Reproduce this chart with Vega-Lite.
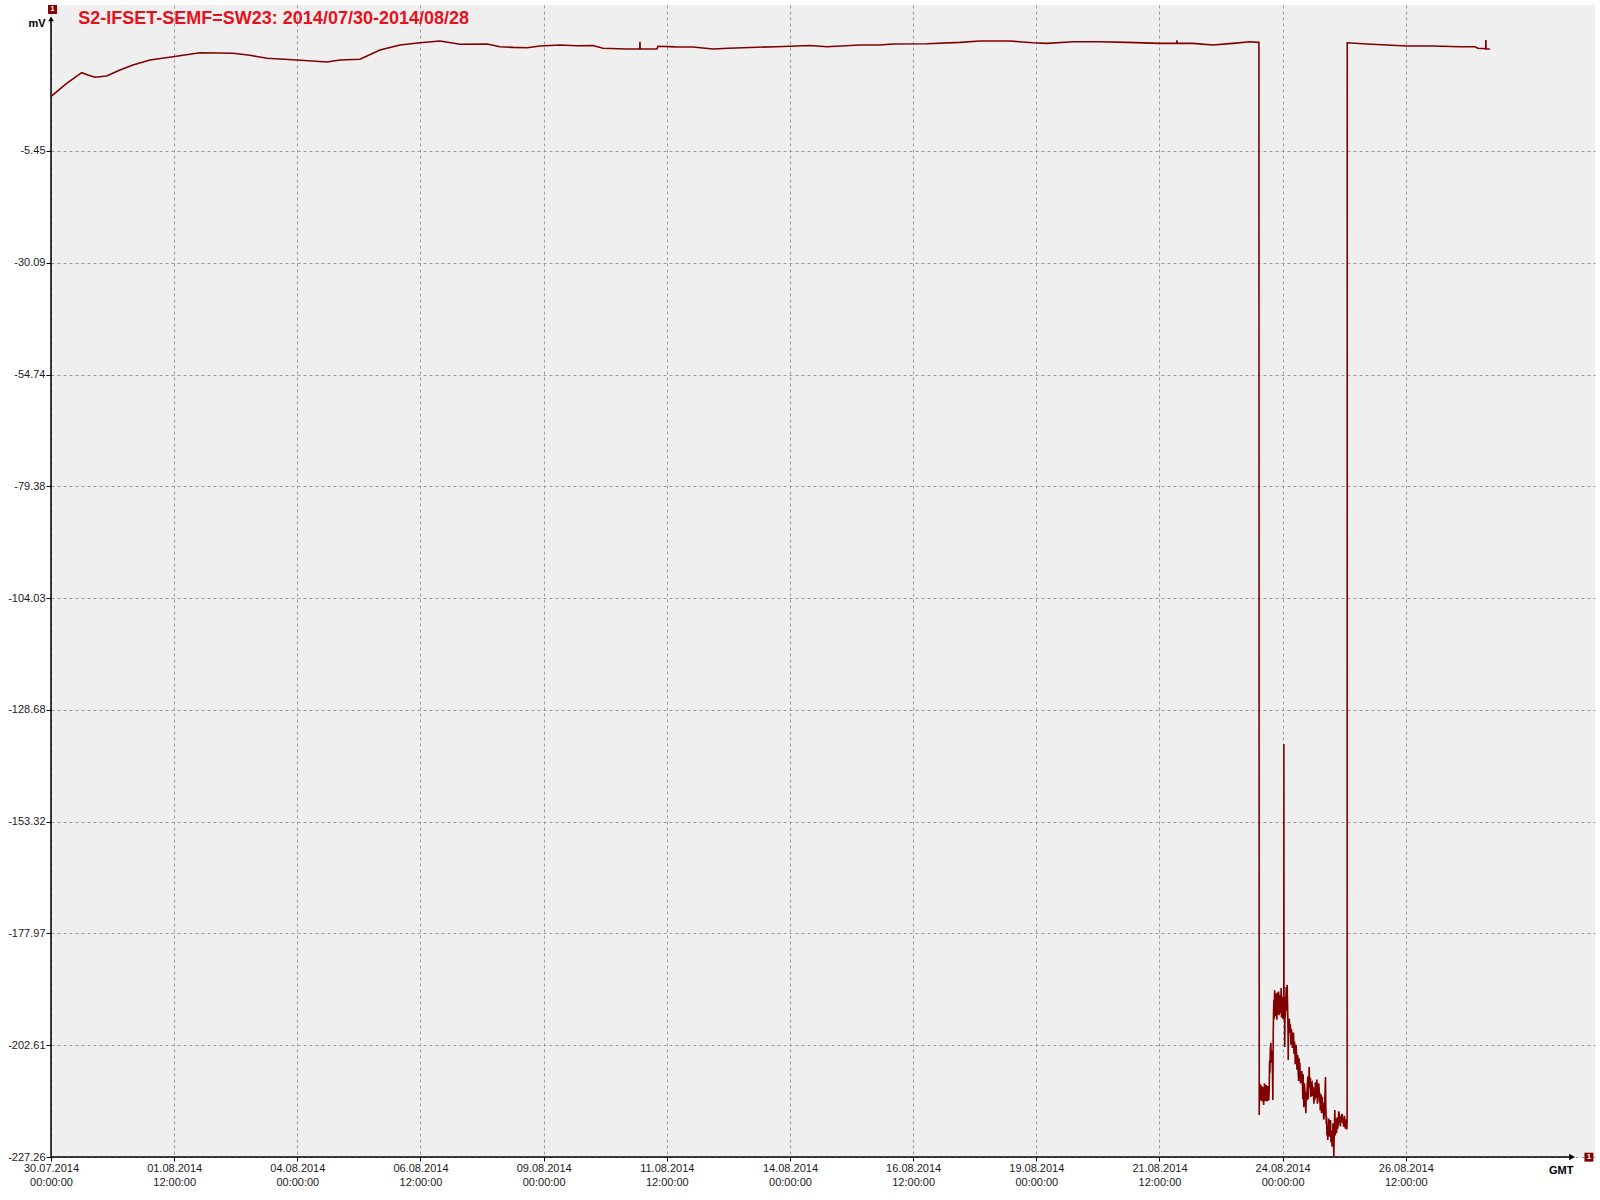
{
  "$schema": "https://vega.github.io/schema/vega-lite/v6.json",
  "width": 1544,
  "height": 1152,
  "autosize": {"type": "none"},
  "padding": {"left": 51, "top": 5, "right": 5, "bottom": 43},
  "background": "#FFFFFF",
  "config": {
    "view": {"fill": "#EFEFEF", "stroke": null},
    "font": "Liberation Sans"
  },
  "layer": [
    {
      "data": {
        "values": [
          {"t": "2014-07-30T00:20:00Z", "v": 6.68},
          {"t": "2014-07-30T07:38:00Z", "v": 9.48},
          {"t": "2014-07-30T14:57:00Z", "v": 11.81},
          {"t": "2014-07-30T18:01:00Z", "v": 11.3},
          {"t": "2014-07-30T21:25:00Z", "v": 10.8},
          {"t": "2014-07-31T03:07:00Z", "v": 11.09},
          {"t": "2014-07-31T09:36:00Z", "v": 12.41},
          {"t": "2014-07-31T15:56:00Z", "v": 13.51},
          {"t": "2014-08-01T00:13:00Z", "v": 14.61},
          {"t": "2014-08-01T11:26:00Z", "v": 15.34},
          {"t": "2014-08-02T00:35:00Z", "v": 16.22},
          {"t": "2014-08-02T16:39:00Z", "v": 16.09},
          {"t": "2014-08-03T00:56:00Z", "v": 15.65},
          {"t": "2014-08-03T09:13:00Z", "v": 14.99},
          {"t": "2014-08-03T23:50:00Z", "v": 14.61},
          {"t": "2014-08-04T14:27:00Z", "v": 14.17},
          {"t": "2014-08-04T20:47:00Z", "v": 14.61},
          {"t": "2014-08-05T06:31:00Z", "v": 14.77},
          {"t": "2014-08-05T16:15:00Z", "v": 16.82},
          {"t": "2014-08-06T02:00:00Z", "v": 17.92},
          {"t": "2014-08-06T11:44:00Z", "v": 18.43},
          {"t": "2014-08-06T21:29:00Z", "v": 18.8},
          {"t": "2014-08-07T07:13:00Z", "v": 18.1},
          {"t": "2014-08-07T20:23:00Z", "v": 18.14},
          {"t": "2014-08-08T02:43:00Z", "v": 17.55},
          {"t": "2014-08-08T09:10:00Z", "v": 17.4},
          {"t": "2014-08-08T15:52:00Z", "v": 17.33},
          {"t": "2014-08-08T22:12:00Z", "v": 17.7},
          {"t": "2014-08-09T07:57:00Z", "v": 17.92},
          {"t": "2014-08-09T16:00:00Z", "v": 17.75},
          {"t": "2014-08-10T00:01:00Z", "v": 17.8},
          {"t": "2014-08-10T04:54:00Z", "v": 17.19},
          {"t": "2014-08-10T16:35:00Z", "v": 17.04},
          {"t": "2014-08-10T22:50:00Z", "v": 17.04},
          {"t": "2014-08-10T22:55:00Z", "v": 18.65},
          {"t": "2014-08-10T23:00:00Z", "v": 17.04},
          {"t": "2014-08-11T07:12:00Z", "v": 17.04},
          {"t": "2014-08-11T07:41:00Z", "v": 17.63},
          {"t": "2014-08-11T16:00:00Z", "v": 17.5},
          {"t": "2014-08-12T00:43:00Z", "v": 17.48},
          {"t": "2014-08-12T10:28:00Z", "v": 17.04},
          {"t": "2014-08-12T18:00:00Z", "v": 17.2},
          {"t": "2014-08-13T01:05:00Z", "v": 17.33},
          {"t": "2014-08-13T17:38:00Z", "v": 17.55},
          {"t": "2014-08-14T09:43:00Z", "v": 17.8},
          {"t": "2014-08-14T18:00:00Z", "v": 17.55},
          {"t": "2014-08-15T10:05:00Z", "v": 17.92},
          {"t": "2014-08-15T19:49:00Z", "v": 17.92},
          {"t": "2014-08-16T02:10:00Z", "v": 18.14},
          {"t": "2014-08-16T18:43:00Z", "v": 18.21},
          {"t": "2014-08-17T10:47:00Z", "v": 18.5},
          {"t": "2014-08-17T20:31:00Z", "v": 18.8},
          {"t": "2014-08-18T11:08:00Z", "v": 18.8},
          {"t": "2014-08-18T22:21:00Z", "v": 18.43},
          {"t": "2014-08-19T05:10:00Z", "v": 18.28},
          {"t": "2014-08-19T17:50:00Z", "v": 18.65},
          {"t": "2014-08-20T06:59:00Z", "v": 18.65},
          {"t": "2014-08-20T20:08:00Z", "v": 18.5},
          {"t": "2014-08-21T12:13:00Z", "v": 18.28},
          {"t": "2014-08-21T20:25:00Z", "v": 18.28},
          {"t": "2014-08-21T20:30:00Z", "v": 18.95},
          {"t": "2014-08-21T20:35:00Z", "v": 18.28},
          {"t": "2014-08-22T04:16:00Z", "v": 18.28},
          {"t": "2014-08-22T14:01:00Z", "v": 17.92},
          {"t": "2014-08-22T23:46:00Z", "v": 18.28},
          {"t": "2014-08-23T08:02:00Z", "v": 18.65},
          {"t": "2014-08-23T11:57:00Z", "v": 18.5},
          {"t": "2014-08-23T12:26:00Z", "v": 18.5},
          {"t": "2014-08-23T12:35:00Z", "v": -218.0},
          {"t": "2014-08-23T12:45:00Z", "v": -211.0},
          {"t": "2014-08-23T12:55:00Z", "v": -213.5},
          {"t": "2014-08-23T13:05:00Z", "v": -211.2},
          {"t": "2014-08-23T13:15:00Z", "v": -214.8},
          {"t": "2014-08-23T13:25:00Z", "v": -212.0},
          {"t": "2014-08-23T13:43:00Z", "v": -211.5},
          {"t": "2014-08-23T13:55:00Z", "v": -214.6},
          {"t": "2014-08-23T14:05:00Z", "v": -215.0},
          {"t": "2014-08-23T14:15:00Z", "v": -211.9},
          {"t": "2014-08-23T14:32:00Z", "v": -212.3},
          {"t": "2014-08-23T14:45:00Z", "v": -215.8},
          {"t": "2014-08-23T14:55:00Z", "v": -214.2},
          {"t": "2014-08-23T15:08:00Z", "v": -211.0},
          {"t": "2014-08-23T15:20:00Z", "v": -211.8},
          {"t": "2014-08-23T15:33:00Z", "v": -214.9},
          {"t": "2014-08-23T15:45:00Z", "v": -213.9},
          {"t": "2014-08-23T15:58:00Z", "v": -211.4},
          {"t": "2014-08-23T16:10:00Z", "v": -212.0},
          {"t": "2014-08-23T16:22:00Z", "v": -215.0},
          {"t": "2014-08-23T16:35:00Z", "v": -214.5},
          {"t": "2014-08-23T16:47:00Z", "v": -211.6},
          {"t": "2014-08-23T16:58:00Z", "v": -212.2},
          {"t": "2014-08-23T17:12:00Z", "v": -214.8},
          {"t": "2014-08-23T17:27:00Z", "v": -212.5},
          {"t": "2014-08-23T17:38:00Z", "v": -206.0},
          {"t": "2014-08-23T17:47:00Z", "v": -208.7},
          {"t": "2014-08-23T18:00:00Z", "v": -203.5},
          {"t": "2014-08-23T18:16:00Z", "v": -202.1},
          {"t": "2014-08-23T18:30:00Z", "v": -206.5},
          {"t": "2014-08-23T18:42:00Z", "v": -203.8},
          {"t": "2014-08-23T18:55:00Z", "v": -205.2},
          {"t": "2014-08-23T19:05:00Z", "v": -210.0},
          {"t": "2014-08-23T19:14:00Z", "v": -214.7},
          {"t": "2014-08-23T19:25:00Z", "v": -200.0},
          {"t": "2014-08-23T19:35:00Z", "v": -195.0},
          {"t": "2014-08-23T19:44:00Z", "v": -192.6},
          {"t": "2014-08-23T19:55:00Z", "v": -196.8},
          {"t": "2014-08-23T20:05:00Z", "v": -190.5},
          {"t": "2014-08-23T20:13:00Z", "v": -191.5},
          {"t": "2014-08-23T20:25:00Z", "v": -196.2},
          {"t": "2014-08-23T20:35:00Z", "v": -195.5},
          {"t": "2014-08-23T20:48:00Z", "v": -191.2},
          {"t": "2014-08-23T21:02:00Z", "v": -194.8},
          {"t": "2014-08-23T21:12:00Z", "v": -197.0},
          {"t": "2014-08-23T21:25:00Z", "v": -191.0},
          {"t": "2014-08-23T21:38:00Z", "v": -195.8},
          {"t": "2014-08-23T21:50:00Z", "v": -192.6},
          {"t": "2014-08-23T22:02:00Z", "v": -190.8},
          {"t": "2014-08-23T22:15:00Z", "v": -196.0},
          {"t": "2014-08-23T22:27:00Z", "v": -192.5},
          {"t": "2014-08-23T22:39:00Z", "v": -195.5},
          {"t": "2014-08-23T22:52:00Z", "v": -191.5},
          {"t": "2014-08-23T23:08:00Z", "v": -193.3},
          {"t": "2014-08-23T23:16:00Z", "v": -190.0},
          {"t": "2014-08-23T23:25:00Z", "v": -196.5},
          {"t": "2014-08-23T23:37:00Z", "v": -193.0},
          {"t": "2014-08-23T23:47:00Z", "v": -192.0},
          {"t": "2014-08-24T00:05:00Z", "v": -196.8},
          {"t": "2014-08-24T00:16:00Z", "v": -195.9},
          {"t": "2014-08-24T00:25:00Z", "v": -191.5},
          {"t": "2014-08-24T00:33:00Z", "v": -193.0},
          {"t": "2014-08-24T00:36:00Z", "v": -136.2},
          {"t": "2014-08-24T00:40:00Z", "v": -196.5},
          {"t": "2014-08-24T00:46:00Z", "v": -197.0},
          {"t": "2014-08-24T00:55:00Z", "v": -192.0},
          {"t": "2014-08-24T01:02:00Z", "v": -203.0},
          {"t": "2014-08-24T01:10:00Z", "v": -193.5},
          {"t": "2014-08-24T01:20:00Z", "v": -196.5},
          {"t": "2014-08-24T01:34:00Z", "v": -192.6},
          {"t": "2014-08-24T01:45:00Z", "v": -189.8},
          {"t": "2014-08-24T01:55:00Z", "v": -195.0},
          {"t": "2014-08-24T02:05:00Z", "v": -191.5},
          {"t": "2014-08-24T02:13:00Z", "v": -189.3},
          {"t": "2014-08-24T02:22:00Z", "v": -193.0},
          {"t": "2014-08-24T02:30:00Z", "v": -196.0},
          {"t": "2014-08-24T02:37:00Z", "v": -199.5},
          {"t": "2014-08-24T02:43:00Z", "v": -205.9},
          {"t": "2014-08-24T02:52:00Z", "v": -197.5},
          {"t": "2014-08-24T03:05:00Z", "v": -198.5},
          {"t": "2014-08-24T03:15:00Z", "v": -196.8},
          {"t": "2014-08-24T03:31:00Z", "v": -199.9},
          {"t": "2014-08-24T03:45:00Z", "v": -198.0},
          {"t": "2014-08-24T04:00:00Z", "v": -202.5},
          {"t": "2014-08-24T04:12:00Z", "v": -199.0},
          {"t": "2014-08-24T04:30:00Z", "v": -200.0},
          {"t": "2014-08-24T04:45:00Z", "v": -203.2},
          {"t": "2014-08-24T05:08:00Z", "v": -201.5},
          {"t": "2014-08-24T05:18:00Z", "v": -199.8},
          {"t": "2014-08-24T05:30:00Z", "v": -204.5},
          {"t": "2014-08-24T05:45:00Z", "v": -201.8},
          {"t": "2014-08-24T05:58:00Z", "v": -203.0},
          {"t": "2014-08-24T06:08:00Z", "v": -206.8},
          {"t": "2014-08-24T06:20:00Z", "v": -205.5},
          {"t": "2014-08-24T06:33:00Z", "v": -202.5},
          {"t": "2014-08-24T06:46:00Z", "v": -204.4},
          {"t": "2014-08-24T06:58:00Z", "v": -208.0},
          {"t": "2014-08-24T07:10:00Z", "v": -207.0},
          {"t": "2014-08-24T07:22:00Z", "v": -204.8},
          {"t": "2014-08-24T07:35:00Z", "v": -208.7},
          {"t": "2014-08-24T07:48:00Z", "v": -210.5},
          {"t": "2014-08-24T08:00:00Z", "v": -205.5},
          {"t": "2014-08-24T08:12:00Z", "v": -209.2},
          {"t": "2014-08-24T08:23:00Z", "v": -206.5},
          {"t": "2014-08-24T08:40:00Z", "v": -211.0},
          {"t": "2014-08-24T09:00:00Z", "v": -210.5},
          {"t": "2014-08-24T09:20:00Z", "v": -208.3},
          {"t": "2014-08-24T09:41:00Z", "v": -211.8},
          {"t": "2014-08-24T09:50:00Z", "v": -214.5},
          {"t": "2014-08-24T10:00:00Z", "v": -209.0},
          {"t": "2014-08-24T10:10:00Z", "v": -213.5},
          {"t": "2014-08-24T10:20:00Z", "v": -216.3},
          {"t": "2014-08-24T10:35:00Z", "v": -211.0},
          {"t": "2014-08-24T10:50:00Z", "v": -212.5},
          {"t": "2014-08-24T11:05:00Z", "v": -215.0},
          {"t": "2014-08-24T11:19:00Z", "v": -217.6},
          {"t": "2014-08-24T11:30:00Z", "v": -213.0},
          {"t": "2014-08-24T11:45:00Z", "v": -214.8},
          {"t": "2014-08-24T11:58:00Z", "v": -211.8},
          {"t": "2014-08-24T12:15:00Z", "v": -209.5},
          {"t": "2014-08-24T12:30:00Z", "v": -214.5},
          {"t": "2014-08-24T12:45:00Z", "v": -210.5},
          {"t": "2014-08-24T12:56:00Z", "v": -207.4},
          {"t": "2014-08-24T13:08:00Z", "v": -211.0},
          {"t": "2014-08-24T13:20:00Z", "v": -212.0},
          {"t": "2014-08-24T13:32:00Z", "v": -209.8},
          {"t": "2014-08-24T13:45:00Z", "v": -214.0},
          {"t": "2014-08-24T14:00:00Z", "v": -211.0},
          {"t": "2014-08-24T14:20:00Z", "v": -210.8},
          {"t": "2014-08-24T14:35:00Z", "v": -213.8},
          {"t": "2014-08-24T14:53:00Z", "v": -211.8},
          {"t": "2014-08-24T15:05:00Z", "v": -214.0},
          {"t": "2014-08-24T15:15:00Z", "v": -215.5},
          {"t": "2014-08-24T15:28:00Z", "v": -212.2},
          {"t": "2014-08-24T15:42:00Z", "v": -214.7},
          {"t": "2014-08-24T15:55:00Z", "v": -210.8},
          {"t": "2014-08-24T16:05:00Z", "v": -211.5},
          {"t": "2014-08-24T16:18:00Z", "v": -214.2},
          {"t": "2014-08-24T16:31:00Z", "v": -212.5},
          {"t": "2014-08-24T16:42:00Z", "v": -210.2},
          {"t": "2014-08-24T16:55:00Z", "v": -215.5},
          {"t": "2014-08-24T17:07:00Z", "v": -212.8},
          {"t": "2014-08-24T17:19:00Z", "v": -214.0},
          {"t": "2014-08-24T17:32:00Z", "v": -211.0},
          {"t": "2014-08-24T17:45:00Z", "v": -212.0},
          {"t": "2014-08-24T17:57:00Z", "v": -215.2},
          {"t": "2014-08-24T18:08:00Z", "v": -213.1},
          {"t": "2014-08-24T18:20:00Z", "v": -217.0},
          {"t": "2014-08-24T18:30:00Z", "v": -216.0},
          {"t": "2014-08-24T18:45:00Z", "v": -213.5},
          {"t": "2014-08-24T18:57:00Z", "v": -217.6},
          {"t": "2014-08-24T19:08:00Z", "v": -215.0},
          {"t": "2014-08-24T19:20:00Z", "v": -214.0},
          {"t": "2014-08-24T19:32:00Z", "v": -217.5},
          {"t": "2014-08-24T19:45:00Z", "v": -215.3},
          {"t": "2014-08-24T20:00:00Z", "v": -219.0},
          {"t": "2014-08-24T20:20:00Z", "v": -218.0},
          {"t": "2014-08-24T20:35:00Z", "v": -214.0},
          {"t": "2014-08-24T20:53:00Z", "v": -209.6},
          {"t": "2014-08-24T21:00:00Z", "v": -215.5},
          {"t": "2014-08-24T21:05:00Z", "v": -217.0},
          {"t": "2014-08-24T21:15:00Z", "v": -220.0},
          {"t": "2014-08-24T21:23:00Z", "v": -218.4},
          {"t": "2014-08-24T21:35:00Z", "v": -222.5},
          {"t": "2014-08-24T21:45:00Z", "v": -220.5},
          {"t": "2014-08-24T21:58:00Z", "v": -223.5},
          {"t": "2014-08-24T22:11:00Z", "v": -222.0},
          {"t": "2014-08-24T22:25:00Z", "v": -218.8},
          {"t": "2014-08-24T22:40:00Z", "v": -219.5},
          {"t": "2014-08-24T22:55:00Z", "v": -222.8},
          {"t": "2014-08-24T23:08:00Z", "v": -220.0},
          {"t": "2014-08-24T23:20:00Z", "v": -219.1},
          {"t": "2014-08-24T23:32:00Z", "v": -224.0},
          {"t": "2014-08-24T23:45:00Z", "v": -221.5},
          {"t": "2014-08-25T00:05:00Z", "v": -225.0},
          {"t": "2014-08-25T00:18:00Z", "v": -223.5},
          {"t": "2014-08-25T00:30:00Z", "v": -219.8},
          {"t": "2014-08-25T00:40:00Z", "v": -220.5},
          {"t": "2014-08-25T00:50:00Z", "v": -224.5},
          {"t": "2014-08-25T00:57:00Z", "v": -227.1},
          {"t": "2014-08-25T01:05:00Z", "v": -223.5},
          {"t": "2014-08-25T01:10:00Z", "v": -222.5},
          {"t": "2014-08-25T01:18:00Z", "v": -219.0},
          {"t": "2014-08-25T01:26:00Z", "v": -216.9},
          {"t": "2014-08-25T01:38:00Z", "v": -222.5},
          {"t": "2014-08-25T01:50:00Z", "v": -221.0},
          {"t": "2014-08-25T02:02:00Z", "v": -218.8},
          {"t": "2014-08-25T02:15:00Z", "v": -222.0},
          {"t": "2014-08-25T02:28:00Z", "v": -220.0},
          {"t": "2014-08-25T02:40:00Z", "v": -218.5},
          {"t": "2014-08-25T02:52:00Z", "v": -221.0},
          {"t": "2014-08-25T03:04:00Z", "v": -219.8},
          {"t": "2014-08-25T03:18:00Z", "v": -217.2},
          {"t": "2014-08-25T03:30:00Z", "v": -217.5},
          {"t": "2014-08-25T03:42:00Z", "v": -219.8},
          {"t": "2014-08-25T03:53:00Z", "v": -218.4},
          {"t": "2014-08-25T04:05:00Z", "v": -220.5},
          {"t": "2014-08-25T04:15:00Z", "v": -220.0},
          {"t": "2014-08-25T04:28:00Z", "v": -218.2},
          {"t": "2014-08-25T04:41:00Z", "v": -219.5},
          {"t": "2014-08-25T04:52:00Z", "v": -217.8},
          {"t": "2014-08-25T05:05:00Z", "v": -218.0},
          {"t": "2014-08-25T05:18:00Z", "v": -219.8},
          {"t": "2014-08-25T05:30:00Z", "v": -218.8},
          {"t": "2014-08-25T05:42:00Z", "v": -220.6},
          {"t": "2014-08-25T05:55:00Z", "v": -219.8},
          {"t": "2014-08-25T06:07:00Z", "v": -218.2},
          {"t": "2014-08-25T06:19:00Z", "v": -219.1},
          {"t": "2014-08-25T06:32:00Z", "v": -221.0},
          {"t": "2014-08-25T06:45:00Z", "v": -220.5},
          {"t": "2014-08-25T06:56:00Z", "v": -219.0},
          {"t": "2014-08-25T07:07:00Z", "v": -220.2},
          {"t": "2014-08-25T07:17:00Z", "v": -221.2},
          {"t": "2014-08-25T07:25:00Z", "v": -219.5},
          {"t": "2014-08-25T07:28:00Z", "v": 18.4},
          {"t": "2014-08-25T17:02:00Z", "v": 18.14},
          {"t": "2014-08-26T02:47:00Z", "v": 17.92},
          {"t": "2014-08-26T12:32:00Z", "v": 17.7},
          {"t": "2014-08-27T01:11:00Z", "v": 17.7},
          {"t": "2014-08-27T14:20:00Z", "v": 17.55},
          {"t": "2014-08-27T21:39:00Z", "v": 17.55},
          {"t": "2014-08-27T23:07:00Z", "v": 17.19},
          {"t": "2014-08-28T02:55:00Z", "v": 17.1},
          {"t": "2014-08-28T03:00:00Z", "v": 19.0},
          {"t": "2014-08-28T03:05:00Z", "v": 17.04},
          {"t": "2014-08-28T04:57:00Z", "v": 17.04}
        ]
      },
      "mark": {"type": "line", "color": "#800000", "strokeWidth": 1.6},
      "encoding": {
        "x": {
          "field": "t",
          "type": "temporal",
          "scale": {
            "type": "utc",
            "domain": [
              {"year": 2014, "month": 7, "date": 30, "utc": true},
              {"year": 2014, "month": 8, "date": 30, "hours": 8, "minutes": 10, "utc": true}
            ]
          },
          "axis": {
            "values": [
              {"year": 2014, "month": 7, "date": 30, "hours": 0, "utc": true},
              {"year": 2014, "month": 8, "date": 1, "hours": 12, "utc": true},
              {"year": 2014, "month": 8, "date": 4, "hours": 0, "utc": true},
              {"year": 2014, "month": 8, "date": 6, "hours": 12, "utc": true},
              {"year": 2014, "month": 8, "date": 9, "hours": 0, "utc": true},
              {"year": 2014, "month": 8, "date": 11, "hours": 12, "utc": true},
              {"year": 2014, "month": 8, "date": 14, "hours": 0, "utc": true},
              {"year": 2014, "month": 8, "date": 16, "hours": 12, "utc": true},
              {"year": 2014, "month": 8, "date": 19, "hours": 0, "utc": true},
              {"year": 2014, "month": 8, "date": 21, "hours": 12, "utc": true},
              {"year": 2014, "month": 8, "date": 24, "hours": 0, "utc": true},
              {"year": 2014, "month": 8, "date": 26, "hours": 12, "utc": true}
            ],
            "labelExpr": "[utcFormat(datum.value, '%d.%m.%Y'), utcFormat(datum.value, '%H:%M:%S')]",
            "domain": false,
            "grid": true,
            "gridColor": "#9A9A9A",
            "gridDash": [3, 3],
            "gridWidth": 1,
            "tickColor": "#000000",
            "tickSize": 4,
            "labelPadding": 1,
            "labelFontSize": 11,
            "labelColor": "#1A1A1A",
            "labelLineHeight": 14,
            "labelFlush": false,
            "labelOverlap": false,
            "title": "GMT",
            "titleX": 1522,
            "titleY": 16,
            "titleAlign": "right",
            "titleBaseline": "alphabetic",
            "titleFontSize": 11,
            "titleFontWeight": "bold",
            "titleColor": "#000000"
          }
        },
        "y": {
          "field": "v",
          "type": "quantitative",
          "scale": {"domain": [-227.26, 26.74], "nice": false, "zero": false},
          "axis": {
            "values": [-227.26, -202.61, -177.97, -153.32, -128.68, -104.03, -79.38, -54.74, -30.09, -5.45],
            "labelExpr": "replace(format(datum.value, '.2f'), '\u2212', '-')",
            "domain": false,
            "grid": true,
            "gridColor": "#9A9A9A",
            "gridDash": [3, 3],
            "gridWidth": 1,
            "tickColor": "#000000",
            "tickSize": 5,
            "labelPadding": 1,
            "labelFontSize": 11,
            "labelColor": "#1A1A1A",
            "labelOverlap": false,
            "title": "mV",
            "titleAngle": 0,
            "titleX": -6,
            "titleY": 21,
            "titleAlign": "right",
            "titleBaseline": "alphabetic",
            "titleFontSize": 11,
            "titleFontWeight": "bold",
            "titleColor": "#000000"
          }
        }
      }
    },
    {
      "data": {"values": [{}]},
      "mark": {"type": "rule", "color": "#000000", "strokeWidth": 1.5},
      "encoding": {
        "x": {"datum": {"year": 2014, "month": 7, "date": 30, "utc": true}, "type": "temporal"},
        "y": {"datum": -227.26, "type": "quantitative"},
        "y2": {"datum": 23.7}
      }
    },
    {
      "data": {"values": [{}]},
      "mark": {"type": "rule", "color": "#000000", "strokeWidth": 1.5},
      "encoding": {
        "x": {"datum": {"year": 2014, "month": 7, "date": 30, "utc": true}, "type": "temporal"},
        "x2": {"datum": {"year": 2014, "month": 8, "date": 29, "hours": 20, "utc": true}},
        "y": {"datum": -227.26, "type": "quantitative"}
      }
    },
    {
      "data": {"values": [{}]},
      "mark": {"type": "point", "shape": "triangle-up", "filled": true, "color": "#000000", "size": 30, "opacity": 1},
      "encoding": {
        "x": {"datum": {"year": 2014, "month": 7, "date": 30, "utc": true}, "type": "temporal"},
        "y": {"datum": 23.7, "type": "quantitative"}
      }
    },
    {
      "data": {"values": [{}]},
      "mark": {"type": "point", "shape": "triangle-right", "filled": true, "color": "#000000", "size": 45, "opacity": 1},
      "encoding": {
        "x": {"datum": {"year": 2014, "month": 8, "date": 29, "hours": 21, "utc": true}, "type": "temporal"},
        "y": {"datum": -227.26, "type": "quantitative"}
      }
    },
    {
      "data": {"values": [{}]},
      "mark": {"type": "text", "text": "S2-IFSET-SEMF=SW23: 2014/07/30-2014/08/28", "align": "left", "baseline": "alphabetic", "fontSize": 18, "fontWeight": "bold", "color": "#E8101A", "font": "Liberation Sans"},
      "encoding": {
        "x": {"datum": {"year": 2014, "month": 7, "date": 30, "hours": 13, "minutes": 18, "utc": true}, "type": "temporal"},
        "y": {"datum": 22.66, "type": "quantitative"}
      }
    },
    {
      "data": {
        "values": [
          {"t": "2014-07-30T00:44:00Z", "v": 25.75, "n": "1"},
          {"t": "2014-08-30T05:12:00Z", "v": -227.3, "n": "1"}
        ]
      },
      "layer": [
        {
          "mark": {"type": "square", "color": "#800000", "size": 80, "opacity": 1},
          "encoding": {
            "x": {"field": "t", "type": "temporal"},
            "y": {"field": "v", "type": "quantitative"}
          }
        },
        {
          "mark": {"type": "text", "color": "#FFFFFF", "fontSize": 8, "fontWeight": "bold", "align": "center", "baseline": "middle"},
          "encoding": {
            "x": {"field": "t", "type": "temporal"},
            "y": {"field": "v", "type": "quantitative"},
            "text": {"field": "n"}
          }
        }
      ]
    }
  ]
}
